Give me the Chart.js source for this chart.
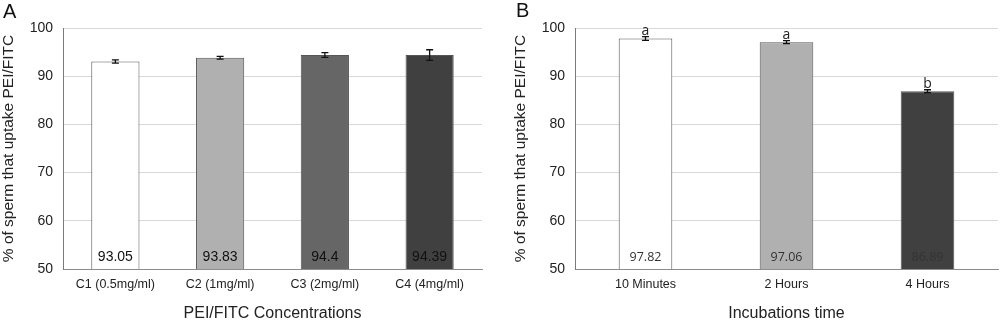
<!DOCTYPE html>
<html>
<head>
<meta charset="utf-8">
<script src="https://cdn.jsdelivr.net/npm/chart.js@4/dist/chart.umd.min.js"></script>
<style>
  body{margin:0;background:#fff;width:1000px;height:323px;position:relative;overflow:hidden;font-family:"Liberation Sans",Arial,sans-serif}
  .panel{position:absolute;top:0;height:323px}
  .tag{position:absolute;font-size:20px;color:#111;line-height:20px}
</style>
</head>
<body>
<div class="panel" style="left:0;width:500px"><canvas id="chartA" width="500" height="323"></canvas></div>
<div class="panel" style="left:512px;width:488px"><canvas id="chartB" width="488" height="323"></canvas></div>
<div class="tag" style="left:3px;top:1px">A</div>
<div class="tag" style="left:516px;top:0px">B</div>
<script>
// panel A data
const catsA = ['C1 (0.5mg/ml)','C2 (1mg/ml)','C3 (2mg/ml)','C4 (4mg/ml)'];
const valsA = [93.05, 93.83, 94.4, 94.39];
const errA = [0.35, 0.3, 0.5, 1.1];
const colorsA = ['#ffffff','#b0b0b0','#666666','#404040'];
// panel B data
const catsB = ['10 Minutes','2 Hours','4 Hours'];
const valsB = [97.82, 97.06, 86.89];
const errB = [0.4, 0.3, 0.3];
const lettersB = ['a','a','b'];
const colorsB = ['#ffffff','#b0b0b0','#404040'];
const yMin = 50, yMax = 100, yStep = 10;

const tickFont = {family:'"Liberation Sans", Arial, sans-serif', size:12.5};

function errPlugin(errs, letters, labelFont, labelColor){
  return {
    id:'errs',
    afterDatasetsDraw(chart){
      const ctx = chart.ctx, y = chart.scales.y;
      const meta = chart.getDatasetMeta(0);
      const vals = chart.data.datasets[0].data;
      ctx.save();
      meta.data.forEach((bar, i) => {
        const top = y.getPixelForValue(vals[i] + errs[i]);
        const bot = y.getPixelForValue(vals[i] - errs[i]);
        ctx.strokeStyle = '#111'; ctx.lineWidth = 1.3;
        ctx.beginPath();
        ctx.moveTo(bar.x, top); ctx.lineTo(bar.x, bot);
        ctx.moveTo(bar.x - 3.5, top); ctx.lineTo(bar.x + 3.5, top);
        ctx.moveTo(bar.x - 3.5, bot); ctx.lineTo(bar.x + 3.5, bot);
        ctx.stroke();
        // value text near the bottom of the bar
        ctx.fillStyle = labelColor; ctx.font = labelFont;
        ctx.textAlign = 'center'; ctx.textBaseline = 'middle';
        ctx.fillText(String(vals[i]), bar.x, y.getPixelForValue(yMin) - 12);
        if(letters){
          ctx.fillStyle = '#222'; ctx.font = '14px "Open Sans", sans-serif';
          ctx.textBaseline = 'alphabetic';
          ctx.fillText(letters[i], bar.x, top - 2);
        }
      });
      ctx.restore();
    }
  };
}

function makeChart(id, cats, vals, colors, barPct, xTitle, rightPad, plugin){
  return new Chart(document.getElementById(id).getContext('2d'), {
    type:'bar',
    data:{ labels:cats, datasets:[{ data:vals, backgroundColor:colors, borderColor:'#555', borderWidth:1, barPercentage:barPct, categoryPercentage:1 }] },
    options:{
      responsive:false, animation:false,
      layout:{ padding:{ top:28, right:rightPad, left:0, bottom:0 } },
      plugins:{ legend:{display:false}, tooltip:{enabled:false} },
      scales:{
        x:{
          grid:{display:false, drawTicks:false},
          border:{color:'#8c8c8c', width:1},
          ticks:{font:tickFont, color:'#222', padding:8, maxRotation:0},
          title:{display:true, text:xTitle, color:'#222', font:{family:'"Liberation Sans", Arial, sans-serif', size:16}, padding:{top:0,bottom:0}},
          afterFit(s){ s.height = 54; }
        },
        y:{
          min:yMin, max:yMax,
          grid:{color:'#d9d9d9', drawTicks:false},
          border:{color:'#7a7a7a', width:1},
          ticks:{stepSize:yStep, font:{family:'"Liberation Sans", Arial, sans-serif', size:14}, color:'#222', padding:10},
          title:{display:true, text:'% of sperm that uptake PEI/FITC', color:'#222', font:{family:'"Liberation Sans", Arial, sans-serif', size:15.5, lineHeight:1.1}, padding:{top:0,bottom:0}},
          afterFit(s){ s.width = 63; }
        }
      }
    },
    plugins:[plugin]
  });
}

makeChart('chartA', catsA, valsA, colorsA, 0.46, 'PEI/FITC Concentrations', 18,
  errPlugin(errA, null, '14px "Liberation Sans", Arial, sans-serif', '#111'));
makeChart('chartB', catsB, valsB, colorsB, 0.38, 'Incubations time', 2,
  errPlugin(errB, lettersB, '12.5px "Open Sans", sans-serif', '#333'));
</script>
</body>
</html>
